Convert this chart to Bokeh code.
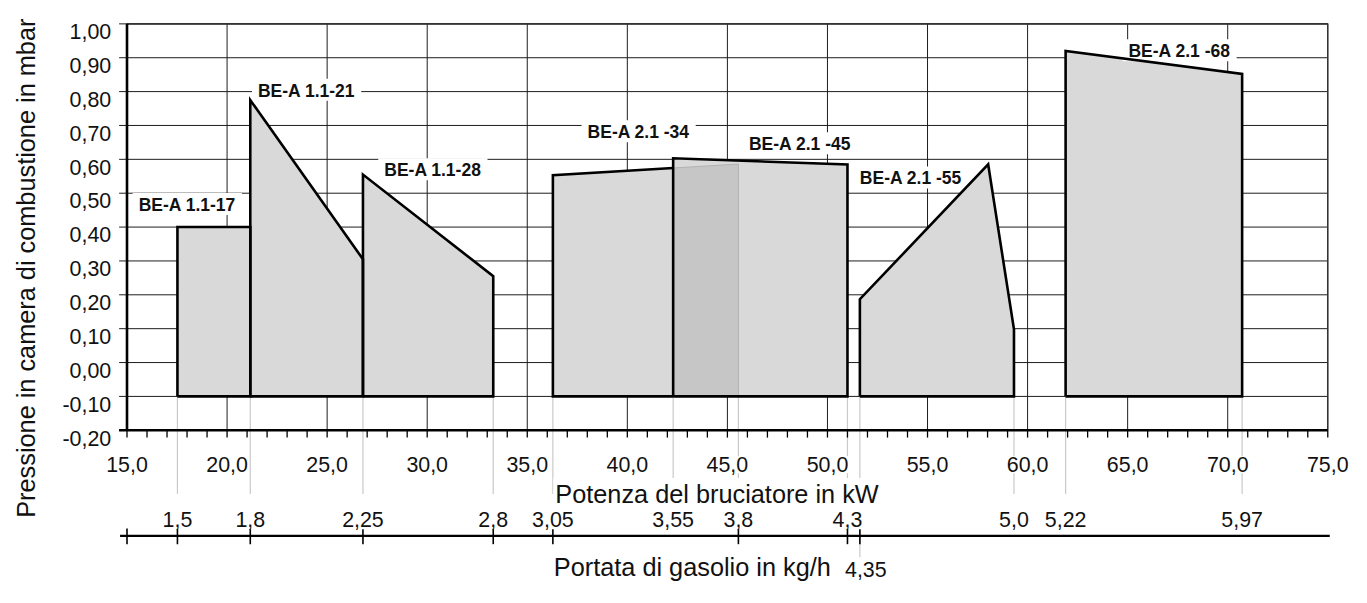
import numpy as np
from bokeh.plotting import figure
from bokeh.models import Range1d
from bokeh.core.properties import value
from bokeh.embed import file_html
from bokeh.resources import INLINE

# ---------------- data ----------------
x_ticks = [15, 20, 25, 30, 35, 40, 45, 50, 55, 60, 65, 70, 75]
x_tick_labels = ["15,0", "20,0", "25,0", "30,0", "35,0", "40,0", "45,0",
                 "50,0", "55,0", "60,0", "65,0", "70,0", "75,0"]
y_ticks = [-0.2, -0.1, 0.0, 0.1, 0.2, 0.3, 0.4, 0.5, 0.6, 0.7, 0.8, 0.9, 1.0]
y_tick_labels = ["-0,20", "-0,10", "0,00", "0,10", "0,20", "0,30", "0,40",
                 "0,50", "0,60", "0,70", "0,80", "0,90", "1,00"]

# oil flow (kg/h) labels and their position on the kW scale
kgh_labels = ["1,5", "1,8", "2,25", "2,8", "3,05", "3,55", "3,8", "4,3", "4,35", "5,0", "5,22", "5,97"]
kgh_kw = [17.52, 21.16, 26.79, 33.30, 36.28, 42.29, 45.55, 51.00, 51.62, 59.32, 61.90, 70.72]
kgh_with_tick = ["1,5", "1,8", "2,25", "2,8", "3,05", "3,8", "4,3", "4,35"]

models = ["BE-A 1.1-17", "BE-A 1.1-21", "BE-A 1.1-28", "BE-A 2.1 -34",
          "BE-A 2.1 -45", "BE-A 2.1 -55", "BE-A 2.1 -68"]
poly_kw = [
    [17.52, 17.52, 21.16, 21.16],
    [21.16, 21.16, 26.79, 26.79],
    [26.79, 26.79, 33.30, 33.30],
    [36.28, 36.28, 45.55, 45.55],
    [42.29, 42.29, 51.00, 51.00],
    [51.62, 51.62, 58.03, 59.32, 59.32],
    [61.90, 61.90, 70.72, 70.72],
]
poly_mbar = [
    [-0.10, 0.400, 0.400, -0.10],
    [-0.10, 0.775, 0.305, -0.10],
    [-0.10, 0.555, 0.255, -0.10],
    [-0.10, 0.553, 0.586, -0.10],
    [-0.10, 0.603, 0.585, -0.10],
    [-0.10, 0.187, 0.585, 0.098, -0.10],
    [-0.10, 0.920, 0.852, -0.10],
]

# ---------------- layout (reference-pixel helpers) ----------------
REF_W, REF_H = 1367.0, 603.0
W, H = 1351, 587
SX, SY = W / REF_W, H / REF_H
PX_X0, PX_X1 = 128.0, 1343.0    # x pixel of 15 kW and 75 kW
PX_YT, PX_YB = 24.0, 441.5      # y pixel of 1.00 and -0.20
KX = (PX_X1 - PX_X0) / 60.0
KY = (PX_YB - PX_YT) / 1.2


def xd(X):
    return 15.0 + (X - PX_X0) / KX


def yd(Y):
    return 1.0 - (Y - PX_YT) / KY


def fs(px):
    return f"{px * SY:.1f}px"


FONT = value("Liberation Sans")

p = figure(width=W, height=H, x_range=Range1d(xd(0), xd(REF_W)),
           y_range=Range1d(yd(REF_H), yd(0)), output_backend="svg",
           toolbar_location=None, x_axis_location=None, y_axis_location=None,
           min_border=0, outline_line_color=None)
p.grid.visible = False
p.background_fill_color = "white"
p.border_fill_color = "white"

xmin, xmax = x_ticks[0], x_ticks[-1]
ymin, ymax = y_ticks[0], y_ticks[-1]
GRID = "#1e1e1e"

# grid lines
vx = x_ticks[1:-1]
p.segment(x0=vx, y0=[ymin] * len(vx), x1=vx, y1=[ymax] * len(vx), line_color=GRID, line_width=1)
p.segment(x0=[xd(120)] * len(y_ticks), y0=y_ticks, x1=[xmax] * len(y_ticks), y1=y_ticks,
          line_color=GRID, line_width=1)

# gray guide lines from polygon bottoms to the flow axis
g_y1 = [yd(572) if lab == "4,35" else yd(507) for lab in kgh_labels]
p.segment(x0=kgh_kw, y0=[-0.1] * len(kgh_kw), x1=kgh_kw, y1=g_y1,
          line_color="#c9c9c9", line_width=1.2)

# polygons (fills)
p.patches(xs=poly_kw, ys=poly_mbar, fill_color="#d9d9d9", line_color=None)

# overlap of BE-A 2.1-34 and BE-A 2.1-45
i34, i45 = 3, 4
ox0, ox1 = poly_kw[i45][0], poly_kw[i34][-1]
top34 = lambda x: float(np.interp(x, [poly_kw[i34][1], poly_kw[i34][2]],
                                  [poly_mbar[i34][1], poly_mbar[i34][2]]))
p.patch(x=[ox0, ox0, ox1, ox1], y=[-0.1, top34(ox0), top34(ox1), -0.1],
        fill_color="#c6c6c6", line_color="#b2b2b2", line_width=1)

# frame
p.line(x=[xmin, xmax, xmax], y=[ymax, ymax, ymin], line_color="#333333", line_width=1.6)
p.line(x=[xmin, xmin], y=[ymin, ymax], line_color="black", line_width=2.6)
p.line(x=[xd(120), xmax], y=[ymin, ymin], line_color="black", line_width=2.6)
minor = list(range(xmin, xmax + 1))
p.segment(x0=minor, y0=[ymin] * len(minor), x1=minor, y1=[yd(449)] * len(minor),
          line_color="black", line_width=1.3)

# flow axis
ya = yd(550)
p.line(x=[xd(121), xd(1345)], y=[ya, ya], line_color="black", line_width=2.2)
tk = [xmin] + [k for k, l in zip(kgh_kw, kgh_labels) if l in kgh_with_tick]
p.segment(x0=tk, y0=[yd(542.5)] * len(tk), x1=tk, y1=[yd(558.5)] * len(tk),
          line_color="black", line_width=1.6)


def txt(xs, ys, texts, size, bold=False, align="center", baseline="alphabetic",
        bg=None, pad=0, angle=0.0, x_offset=0, y_offset=0):
    kw = dict(text_font=FONT, text_font_size=fs(size), text_color="#111111",
              text_align=align, text_baseline=baseline, angle=angle,
              x_offset=x_offset * SX, y_offset=y_offset * SY)
    if bold:
        kw["text_font_style"] = "bold"
    if bg is not None:
        kw.update(background_fill_color=bg, padding=pad)
    p.text(x=xs, y=ys, text=texts, **kw)


# tick labels
txt([xd(112)] * len(y_ticks), y_ticks, y_tick_labels, 22, align="right", y_offset=8)
txt(x_ticks, [yd(477)] * len(x_ticks), x_tick_labels, 22, bg="white", pad=1)

# axis titles
txt([xd(725)], [yd(507)], ["Potenza del bruciatore in kW"], 26, bg="white", pad=2)
txt([xd(700)], [yd(582)], ["Portata di gasolio in kg/h"], 26)
txt([xd(26)], [yd(275)], ["Pressione in camera di combustione in mbar"], 26, angle=np.pi / 2)

# flow labels
top_l = [(k, l) for k, l in zip(kgh_kw, kgh_labels) if l != "4,35"]
txt([k for k, _ in top_l], [yd(533.5)] * len(top_l), [l for _, l in top_l], 22, bg="white", pad=2)
low_l = [(k, l) for k, l in zip(kgh_kw, kgh_labels) if l == "4,35"]
txt([k for k, _ in low_l], [yd(585)] * len(low_l), [l for _, l in low_l], 22, x_offset=6)

# model labels
label_px = [(189, 209), (309.7, 91.7), (437.5, 173.3), (645.7, 134.3),
            (809, 146.7), (921.2, 181.7), (1193, 51)]
txt([xd(a) for a, _ in label_px], [yd(b) for _, b in label_px], models, 18, bold=True,
    bg="white", pad=dict(left=6, right=6, top=2, bottom=0))

# polygon outlines (on top so label boxes never hide them)
out_xs, out_ys = [], []
for i, (xs, ys) in enumerate(zip(poly_kw, poly_mbar)):
    if i == i34:
        out_xs.append([ox0, xs[0], xs[1], ox0])
        out_ys.append([-0.1, ys[0], ys[1], top34(ox0)])
    else:
        out_xs.append(list(xs) + [xs[0]])
        out_ys.append(list(ys) + [ys[0]])
p.multi_line(xs=out_xs, ys=out_ys, line_color="black", line_width=2.6, line_join="miter")

open("out.html", "w").write(file_html(p, INLINE))
